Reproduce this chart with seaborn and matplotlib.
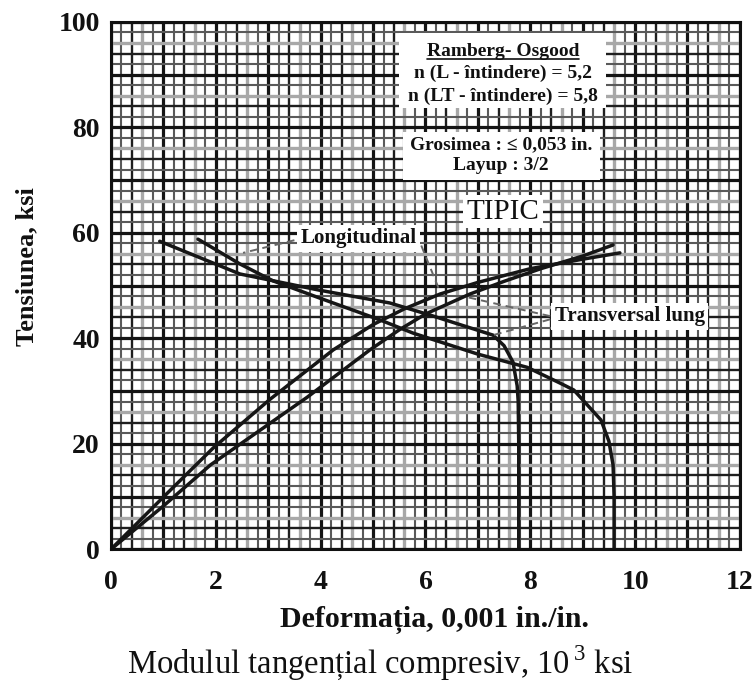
import numpy as np
import pandas as pd
import matplotlib
matplotlib.use("Agg")
import matplotlib.pyplot as plt
from matplotlib.patches import Rectangle
from matplotlib.lines import Line2D
import seaborn as sns

# ---------------- data ----------------
# stress-strain curves: strain (0.001 in./in.) vs stress (ksi)
long_strain = [0.0, 1.0, 1.95, 3.03, 4.24, 5.0, 5.6, 6.28, 7.0, 8.0, 9.0, 9.71]
long_stress = [0.0, 9.9, 19.2, 28.4, 37.8, 42.6, 45.6, 48.4, 50.6, 53.2, 55.0, 56.2]
trans_strain = [0.0, 1.0, 1.9, 3.74, 4.94, 5.5, 6.0, 6.85, 7.5, 8.2, 9.0, 9.58]
trans_stress = [0.0, 8.2, 16.0, 28.8, 37.8, 41.6, 44.6, 48.4, 50.8, 53.2, 55.6, 57.7]
# tangent modulus curves: modulus (10^3 ksi) vs stress (ksi)
long_tan_mod = [9.6, 9.6, 9.58, 9.5, 9.35, 8.83, 8.57, 7.94, 7.0, 5.76, 5.13, 3.99, 3.09, 2.46, 1.66]
long_tan_stress = [0.0, 10.0, 16.0, 20.5, 24.5, 30.2, 31.5, 34.5, 37.0, 41.0, 43.5, 47.6, 50.9, 54.1, 58.8]
trans_tan_mod = [7.78, 7.78, 7.77, 7.75, 7.67, 7.5, 7.29, 6.09, 5.32, 3.99, 2.46, 0.93]
trans_tan_stress = [0.0, 20.0, 28.0, 31.0, 35.5, 38.6, 40.6, 44.4, 46.7, 49.1, 52.2, 58.4]

x_ticks = [0, 2, 4, 6, 8, 10, 12]
y_ticks = [0, 20, 40, 60, 80, 100]

curves = {
    "Longitudinal deformatie": (long_strain, long_stress),
    "Transversal deformatie": (trans_strain, trans_stress),
    "Longitudinal modul": (long_tan_mod, long_tan_stress),
    "Transversal modul": (trans_tan_mod, trans_tan_stress),
}
frames = []
for name, (xs, ys) in curves.items():
    frames.append(pd.DataFrame({"x": xs, "y": ys, "curve": name}))
df = pd.concat(frames, ignore_index=True)

# ---------------- style ----------------
sns.set_theme(style="white")
plt.rcParams['font.family'] = ['Liberation Serif', 'DejaVu Serif']
plt.rcParams['mathtext.fontset'] = 'custom'
plt.rcParams['mathtext.rm'] = 'Liberation Serif'

fig = plt.figure(figsize=(7.55, 6.84), dpi=100)
ax = fig.add_axes([0.147, 0.197, 0.833, 0.771])
ax.set_xlim(0, 12)
ax.set_ylim(0, 100)

# graph-paper grid
pattern = [("#141414", 2.3), ("#5a5a5a", 1.5), ("#1e1e1e", 1.7), ("#a8a8a8", 2.4), ("#5a5a5a", 1.5)]
for i, xv in enumerate(np.arange(0, 12.001, 0.2)):
    c, w = pattern[i % 5]
    ax.axvline(xv, color=c, lw=w, zorder=0.5)
for i, yv in enumerate(np.arange(0, 100.001, 2)):
    c, w = pattern[i % 5]
    ax.axhline(yv, color=c, lw=w, zorder=0.5)

# curves
sns.lineplot(data=df, x="x", y="y", units="curve", estimator=None, sort=False,
             color="#161616", lw=2.5, ax=ax, zorder=3, legend=False)

# axes styling
for s in ax.spines.values():
    s.set_color("#111111")
    s.set_linewidth(2.2)
    s.set_zorder(4)
ax.set_xticks(x_ticks)
ax.set_yticks(y_ticks)
ax.tick_params(axis="x", length=0, pad=15, labelsize=20, colors="#111111")
ax.tick_params(axis="y", length=0, pad=8, labelsize=20, colors="#111111")
for lab in ax.get_xticklabels() + ax.get_yticklabels():
    lab.set_fontweight("bold")
ax.set_xlabel("")
ax.set_ylabel("")

fig.text(0.036, 0.610, "Tensiunea, ksi", rotation=90, ha="center", va="center",
         fontsize=19, fontweight="bold", color="#111111")
fig.text(0.575, 0.093, "Deformația, 0,001 in./in.", ha="center", va="center",
         fontsize=21.5, fontweight="bold", color="#111111")
fig.text(0.503, 0.031, "Modulul tangențial compresiv, 10$^{\\,3}$ ksi", ha="center", va="center",
         fontsize=23.5, color="#111111")

# info boxes
ax.add_patch(Rectangle((5.5, 83.7), 3.95, 14.2, facecolor="white", edgecolor="none", zorder=5))
ax.add_patch(Rectangle((5.57, 70.0), 3.76, 9.1, facecolor="white", edgecolor="none", zorder=5))
tkw = dict(ha="center", va="center", fontsize=14, fontweight="bold", color="#111111", zorder=6)
title_txt = ax.text(7.48, 94.4, "Ramberg- Osgood", **tkw)
ax.text(7.48, 90.2, "n (L - întindere) = 5,2", **tkw)
ax.text(7.48, 85.8, "n (LT - întindere) = 5,8", **tkw)
ax.text(7.44, 76.7, "Grosimea : ≤ 0,053 in.", **tkw)
ax.text(7.44, 72.8, "Layup : 3/2", **tkw)

box = dict(facecolor="white", edgecolor="none", pad=2.5)
ax.text(7.48, 64.0, "TIPIC", ha="center", va="center", fontsize=21, color="#111111",
        bbox=box, zorder=6)
ax.text(4.73, 59.0, "Longitudinal", ha="center", va="center", fontsize=15,
        fontweight="bold", color="#111111", bbox=box, zorder=6)
ax.text(9.9, 44.2, "Transversal lung", ha="center", va="center", fontsize=15,
        fontweight="bold", color="#111111", bbox=box, zorder=6)

# leader lines
lkw = dict(color="#666666", lw=1.4, ls=(0, (4, 2.5)), zorder=5.5)
ax.plot([3.5, 2.52], [58.6, 56.2], **lkw)
ax.plot([5.92, 6.28], [57.6, 48.8], **lkw)
ax.plot([8.38, 6.8], [44.2, 47.8], **lkw)
ax.plot([8.38, 7.29], [43.6, 40.6], **lkw)

# underline for the title of the first box
fig.canvas.draw()
bb = title_txt.get_window_extent(fig.canvas.get_renderer()).transformed(fig.transFigure.inverted())
fig.add_artist(Line2D([bb.x0, bb.x1], [bb.y0 + 0.002, bb.y0 + 0.002],
                      color="#111111", lw=1.2, zorder=7))

fig.savefig("out.png", dpi=100, facecolor="white")
